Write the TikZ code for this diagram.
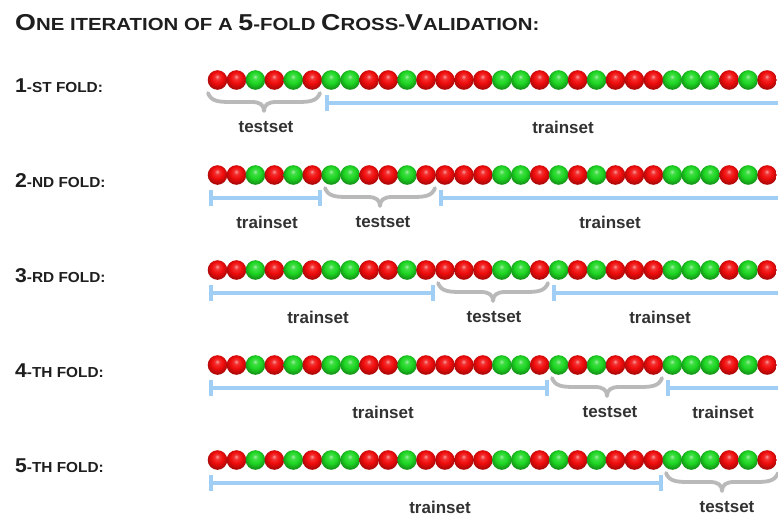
\documentclass[tikz,border=0pt]{standalone}
\usepackage{fontspec}
\setmainfont{Liberation Sans}
\usetikzlibrary{calc}

\definecolor{ballred}{RGB}{240,12,12}
\definecolor{ballgreen}{RGB}{30,215,35}
\definecolor{trainblue}{RGB}{160,206,245}
\definecolor{testgray}{RGB}{185,185,185}
\definecolor{ink}{RGB}{30,30,30}
\definecolor{labelink}{RGB}{50,50,50}

% glossy spheres with a highlight near the top
\pgfdeclareradialshading{redsphere}{\pgfpoint{-1bp}{9bp}}{%
  color(0bp)=(ballred!40!white); color(6bp)=(ballred!85!white);
  color(15bp)=(ballred); color(24bp)=(ballred!78!black); color(34bp)=(ballred!55!black);
  color(50bp)=(ballred!50!black)}
\pgfdeclareradialshading{greensphere}{\pgfpoint{-1bp}{9bp}}{%
  color(0bp)=(ballgreen!40!white); color(6bp)=(ballgreen!85!white);
  color(15bp)=(ballgreen); color(24bp)=(ballgreen!76!black); color(34bp)=(ballgreen!52!black);
  color(50bp)=(ballgreen!48!black)}

% hand-made small capitals: large initial, smaller capitals after it
\newcommand\tbig[1]{{\fontsize{23}{23}\selectfont #1}}
\newcommand\tsmall[1]{{\fontsize{17.5}{17.5}\selectfont #1}}
\newcommand\fbig[1]{{\fontsize{20}{20}\selectfont #1}}
\newcommand\fsmall[1]{{\fontsize{14.5}{14.5}\selectfont #1}}

\tikzset{
  title/.style={anchor=west, inner sep=0pt, text=ink, font=\bfseries},
  foldname/.style={anchor=west, inner sep=0pt, text=ink, font=\bfseries},
  setlabel/.style={inner sep=0pt, text=labelink,
    font=\bfseries\fontsize{17}{17}\selectfont},
  trainbar/.style={draw=trainblue, line width=3.2pt, line cap=butt},
  testbrace/.style={draw=testgray, line width=3.8pt, line cap=round, line join=round},
}

% training bracket: #1 left x, #2 right x, #3 row y, #4 draw right tick (1/0)
\newcommand\trainbracket[4]{%
  \draw[trainbar] (#1,#3+15) -- (#1,#3+31);
  \draw[trainbar] (#1,#3+23) -- (#2,#3+23);
  \ifnum#4=1 \draw[trainbar] (#2,#3+15) -- (#2,#3+31);\fi
}
% test brace: #1 left x, #2 right x, #3 row y
\newcommand\testbrace[3]{%
  \pgfmathsetmacro\bm{(#1+#2)/2}%
  \draw[testbrace] (#1,#3+13)
    .. controls (#1+3,#3+21) and (#1+10,#3+22) .. (#1+22,#3+22)
    -- (\bm-12,#3+22)
    .. controls (\bm-4,#3+22) and (\bm,#3+25) .. (\bm,#3+31)
    .. controls (\bm,#3+25) and (\bm+4,#3+22) .. (\bm+12,#3+22)
    -- (#2-22,#3+22)
    .. controls (#2-10,#3+22) and (#2-3,#3+21) .. (#2,#3+13);
}

\begin{document}
\begin{tikzpicture}[x=1pt,y=-1pt]
  \path[use as bounding box, fill=white] (0,0) rectangle (778,519);

  \node[title] (heading) at (15,23)
    {\scalebox{1.165}[1]{\tbig{O}\tsmall{NE ITERATION OF A }\tbig{5}\tsmall{-FOLD }\tbig{C}\tsmall{ROSS-}\tbig{V}\tsmall{ALIDATION:}}};

  % the same sequence of 30 samples in every row
  \foreach \r/\num/\suf in {1/1/-ST, 2/2/-ND, 3/3/-RD, 4/4/-TH, 5/5/-TH} {
    \pgfmathsetmacro\ry{80+95*(\r-1)}
    \node[foldname] (fold\r) at (15,\ry+6) {\scalebox{1.06}[1]{\fbig{\num}\fsmall{\suf\ FOLD:}}};
    \foreach \c [count=\i from 0] in {red,red,green,red,green,red,
        green,green,red,red,green,red,
        red,red,red,green,green,red,
        green,red,green,red,red,red,
        green,green,green,red,green,red} {
      \shade[shading=\c sphere] (217.5+18.95*\i,\ry) circle (9.8);
    }
  }

  % fold boundaries: 208, 321.7, 435.4, 549.1, 662.8
  % row 1
  \testbrace{208}{320}{80}
  \trainbracket{327}{790}{80}{0}
  \node[setlabel] (test1) at (266,127) {testset};
  \node[setlabel] (train1) at (563,127) {trainset};
  % row 2
  \trainbracket{211}{320}{175}{1}
  \testbrace{325}{435}{175}
  \trainbracket{441}{790}{175}{0}
  \node[setlabel] (train2a) at (267,222) {trainset};
  \node[setlabel] (test2) at (383,222) {testset};
  \node[setlabel] (train2b) at (610,222) {trainset};
  % row 3
  \trainbracket{211}{433}{270}{1}
  \testbrace{438}{548}{270}
  \trainbracket{554}{790}{270}{0}
  \node[setlabel] (train3a) at (318,317) {trainset};
  \node[setlabel] (test3) at (494,317) {testset};
  \node[setlabel] (train3b) at (660,317) {trainset};
  % row 4
  \trainbracket{211}{547}{365}{1}
  \testbrace{552}{662}{365}
  \trainbracket{668}{790}{365}{0}
  \node[setlabel] (train4a) at (383,412) {trainset};
  \node[setlabel] (test4) at (610,412) {testset};
  \node[setlabel] (train4b) at (723,412) {trainset};
  % row 5
  \trainbracket{211}{661}{460}{1}
  \testbrace{666}{778}{460}
  \node[setlabel] (train5) at (440,507) {trainset};
  \node[setlabel] (test5) at (727,507) {testset};
\end{tikzpicture}
\end{document}
